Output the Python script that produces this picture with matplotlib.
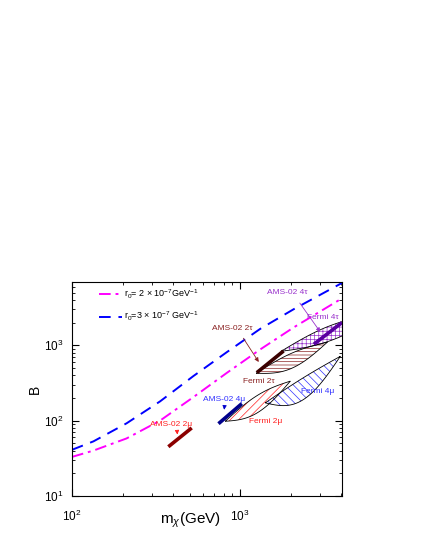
import numpy as np
import matplotlib
matplotlib.use("Agg")
import matplotlib.pyplot as plt

plt.rcParams['font.family'] = ['Liberation Sans', 'DejaVu Sans']
plt.rcParams['mathtext.fontset'] = 'custom'
plt.rcParams['mathtext.rm'] = 'Liberation Sans'
plt.rcParams['mathtext.it'] = 'Liberation Sans:italic'
plt.rcParams['hatch.linewidth'] = 0.5

# curves: B versus dark matter mass
m_curve = [100, 134, 211, 334, 527, 833, 1316, 2077, 4030]
B_r3 = [41, 53, 92, 180, 390, 810, 1650, 3000, 6700]   # r0 = 3e-7
B_r2 = [33, 40, 58, 100, 205, 430, 880, 1720, 4190]    # r0 = 2e-7

# Fermi regions: tips (m, B) and upper / lower half widths (decades)
fermi_names = ["Fermi 2τ", "Fermi 4τ", "Fermi 4μ", "Fermi 2μ"]
fermi_tip1 = [(1245, 425), (1750, 830), (1410, 172), (815, 98)]
fermi_tip2 = [(3300, 1100), (7000, 2600), (3940, 713), (1986, 334)]
fermi_wup = [0.06, 0.10, 0.02, 0.08]
fermi_wlo = [0.14, 0.10, 0.27, 0.15]
fermi_color = ["#8b2323", "#9932cc", "#3333ff", "#ff2020"]
fermi_hatch = ["-----", "++++", "\\\\\\\\", "////"]

# AMS-02 segments
ams_names = ["AMS-02 2μ", "AMS-02 4μ", "AMS-02 2τ", "AMS-02 4τ"]
ams_p1 = [(374, 45), (743, 91), (1256, 433), (2740, 1030)]
ams_p2 = [(515, 80), (1023, 168), (1810, 839), (4030, 2000)]
ams_color = ["#8b0000", "#00008b", "#3a0000", "#5a00a0"]


def lens(p1, p2, wup, wlo, n=80):
    x1, y1 = np.log10(p1)
    x2, y2 = np.log10(p2)
    t = np.linspace(0, 1, n)
    s = np.sin(np.pi * t)
    xs = x1 + t * (x2 - x1)
    yc = y1 + t * (y2 - y1)
    top = yc + wup * s
    bot = yc - wlo * s
    X = np.concatenate([xs, xs[::-1]])
    Y = np.concatenate([top, bot[::-1]])
    return 10 ** X, 10 ** Y


fig = plt.figure(figsize=(4.22, 5.46), dpi=100)
ax = fig.add_axes([0.1706, 0.0916, 0.6398, 0.3919])
ax.set_xscale('log')
ax.set_yscale('log')
ax.set_xlim(100, 4030)
ax.set_ylim(10, 6900)

ax.plot(m_curve, B_r2, color='#ff00ff', lw=1.4, dashes=(6, 2.5, 1.5, 2.5),
        label=r'r$_0$= 2 $\times$ 10$^{-7}$GeV$^{-1}$')
ax.plot(m_curve, B_r3, color='#0000ff', lw=1.4, dashes=(6, 4),
        label=r'r$_0$=3 $\times$ 10$^{-7}$ GeV$^{-1}$')

for i in range(len(fermi_names)):
    X, Y = lens(fermi_tip1[i], fermi_tip2[i], fermi_wup[i], fermi_wlo[i])
    ax.fill(X, Y, facecolor='none', edgecolor=fermi_color[i],
            hatch=fermi_hatch[i], lw=0)
    ax.fill(X, Y, facecolor='none', edgecolor='black', lw=0.6)

for i in range(len(ams_names)):
    ax.plot([ams_p1[i][0], ams_p2[i][0]], [ams_p1[i][1], ams_p2[i][1]],
            color=ams_color[i], lw=2.6, solid_capstyle='butt')

fs = 6
ax.text(1445, 4800, "AMS-02 4τ", color='#9932cc', fontsize=fs)
ax.annotate("", xy=(3060, 1400), xytext=(2213, 3890),
            arrowprops=dict(arrowstyle='-|>', color='#9932cc', lw=0.6,
                            mutation_scale=6))
ax.text(2495, 2220, "Fermi 4τ", color='#9932cc', fontsize=fs)
ax.text(676, 1585, "AMS-02 2τ", color='#8b2323', fontsize=fs)
ax.annotate("", xy=(1316, 558), xytext=(1023, 1330),
            arrowprops=dict(arrowstyle='-|>', color='#8b2323', lw=0.6,
                            mutation_scale=6))
ax.text(1038, 318, "Fermi 2τ", color='#8b2323', fontsize=fs)
ax.text(2296, 229, "Fermi 4μ", color='#3333ff', fontsize=fs)
ax.text(605, 181, "AMS-02 4μ", color='#3333ff', fontsize=fs)
ax.annotate("", xy=(800, 128), xytext=(810, 170),
            arrowprops=dict(arrowstyle='-|>', color='#0000cc', lw=0.6,
                            mutation_scale=6))
ax.text(1122, 93, "Fermi 2μ", color='#ff2020', fontsize=fs)
ax.text(291, 84, "AMS-02 2μ", color='#ff2020', fontsize=fs)
ax.annotate("", xy=(425, 60), xytext=(420, 78),
            arrowprops=dict(arrowstyle='-|>', color='#ff2020', lw=0.6,
                            mutation_scale=6))

ax.legend(loc='upper left', bbox_to_anchor=(0.09, 0.985), frameon=False,
          fontsize=6.5, handlelength=2.6, borderaxespad=0, borderpad=0.3,
          labelspacing=1.0, handletextpad=0.2)

ax.tick_params(which='both', direction='in', top=True, right=True, labelsize=8.5)
ax.tick_params(which='major', length=5, width=0.8)
ax.tick_params(which='minor', length=2.5, width=0.6)
ax.tick_params(axis='x', which='major', pad=9)
ax.tick_params(axis='y', which='major', pad=6)
ax.set_xlabel(r'm$_\chi$(GeV)', fontsize=11)
ax.xaxis.set_label_coords(0.44, -0.07)
ax.set_ylabel('B', fontsize=10, labelpad=2)

fig.savefig('out.png', dpi=100)
